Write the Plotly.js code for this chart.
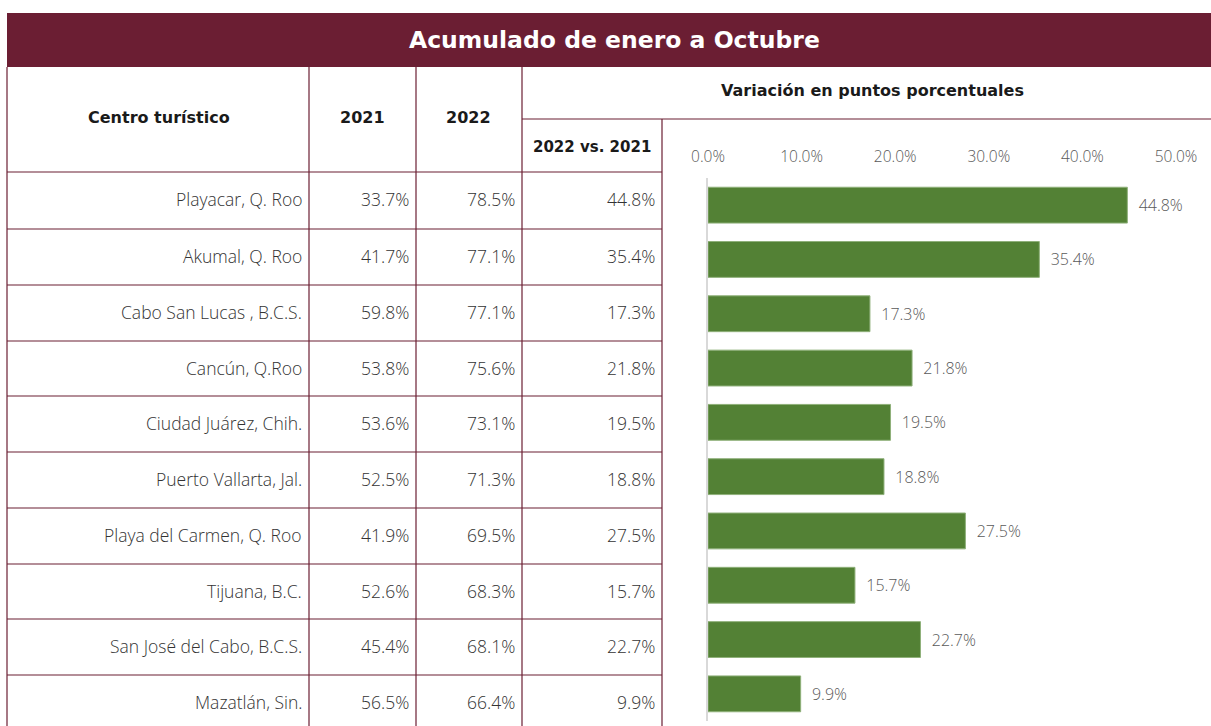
<!DOCTYPE html>
<html>
<head>
<meta charset="utf-8">
<script src="https://cdn.plot.ly/plotly-3.0.1.min.js"></script>
<style>html,body{margin:0;padding:0;background:#fff;}#chart{width:1211px;height:726px;}</style>
</head>
<body>
<div id="chart"></div>
<script>
// ---- data ----
const cities = ["Playacar, Q. Roo", "Akumal, Q. Roo", "Cabo San Lucas , B.C.S.", "Cancún, Q.Roo", "Ciudad Juárez, Chih.", "Puerto Vallarta, Jal.", "Playa del Carmen, Q. Roo", "Tijuana, B.C.", "San José del Cabo, B.C.S.", "Mazatlán, Sin."];
const v2021 = [33.7, 41.7, 59.8, 53.8, 53.6, 52.5, 41.9, 52.6, 45.4, 56.5];
const v2022 = [78.5, 77.1, 77.1, 75.6, 73.1, 71.3, 69.5, 68.3, 68.1, 66.4];
const diff = [44.8, 35.4, 17.3, 21.8, 19.5, 18.8, 27.5, 15.7, 22.7, 9.9];
const tickVals = [0, 10, 20, 30, 40, 50];
const title = "Acumulado de enero a Octubre";
const headers = {city: "Centro turístico", y1: "2021", y2: "2022", group: "Variación en puntos porcentuales", sub: "2022 vs. 2021"};

// ---- layout helpers ----
const W = 1211, H = 726;
const X = x => x / W;
const Y = y => 1 - y / H;
const MAROON = "#6B1E33";
const FONT = "Open Sans, sans-serif";
const BFONT = "DejaVu Sans, sans-serif";
const TXT = "#333333";

const colX = [7, 309, 416, 522];
const rowTops = [172, 229, 285, 341, 396, 452, 508, 564, 619, 675, 731];

const shapes = [];
const annotations = [];
function line(x0, y0, x1, y1, w) {
  shapes.push({type: "line", xref: "paper", yref: "paper", x0: X(x0), y0: Y(y0), x1: X(x1), y1: Y(y1),
    line: {color: MAROON, width: w || 1.2}});
}
function text(t, x, y, opts) {
  annotations.push(Object.assign({text: t, xref: "paper", yref: "paper", x: X(x), y: Y(y), showarrow: false,
    xanchor: "center", yanchor: "middle", font: {family: FONT, size: 17.5, color: TXT, weight: 300}}, opts || {}));
}

// header bar
shapes.push({type: "rect", xref: "paper", yref: "paper", x0: X(7), x1: X(1211), y0: Y(67), y1: Y(13),
  fillcolor: MAROON, line: {width: 0}, layer: "below"});
text(title, 615, 40, {font: {family: BFONT, size: 23.5, color: "#ffffff", weight: 700}});

// grid lines
colX.forEach(cx => line(cx, 67, cx, 726));
line(662, 119, 662, 726);
line(522, 119, 1211, 119);
rowTops.slice(0, 10).forEach(ry => line(7, ry, 662, ry));

// header texts
const hf = {family: BFONT, size: 16, color: "#1a1a1a", weight: 700};
text(headers.city, 159, 117, {font: hf});
text(headers.y1, 362, 118, {font: hf});
text(headers.y2, 469, 118, {font: hf});
text(headers.group, 872, 91, {font: hf});
text(headers.sub, 592, 147, {font: Object.assign({}, hf, {size: 15})});

// data rows
cities.forEach((c, i) => {
  const cy = (rowTops[i] + rowTops[i + 1]) / 2 - 1;
  text(c, 304, cy, {xanchor: "right"});
  text(v2021[i].toFixed(1) + "%", 411, cy, {xanchor: "right"});
  text(v2022[i].toFixed(1) + "%", 517, cy, {xanchor: "right"});
  text(diff[i].toFixed(1) + "%", 657, cy, {xanchor: "right"});
});

const trace = {
  type: "bar", orientation: "h", x: diff, y: cities,
  marker: {color: "#538135", line: {color: "#8fb07a", width: 1}},
  text: diff.map(v => "  " + v.toFixed(1) + "%"), textposition: "outside", cliponaxis: false,
  textfont: {family: FONT, size: 16, color: "#595959", weight: 300},
  hoverinfo: "none"
};

const layout = {
  width: W, height: H, margin: {l: 0, r: 0, t: 0, b: 0},
  paper_bgcolor: "#ffffff", plot_bgcolor: "rgba(0,0,0,0)",
  showlegend: false, bargap: 0.34,
  font: {family: FONT},
  xaxis: {domain: [X(708), X(1176)], range: [0, 50], side: "top", tickvals: tickVals,
    ticktext: tickVals.map(v => v.toFixed(1) + "%"), showgrid: false, zeroline: false, showline: false,
    ticks: "", ticklabelstandoff: 12, tickfont: {family: FONT, size: 15.5, color: "#595959", weight: 300}, fixedrange: true},
  yaxis: {domain: [Y(721), Y(178)], autorange: "reversed", showticklabels: false, showgrid: false,
    zeroline: false, showline: true, linecolor: "#d9d9d9", linewidth: 2, ticks: "", fixedrange: true},
  shapes: shapes, annotations: annotations
};

Plotly.newPlot("chart", [trace], layout, {displayModeBar: false, staticPlot: true});
</script>
</body>
</html>
